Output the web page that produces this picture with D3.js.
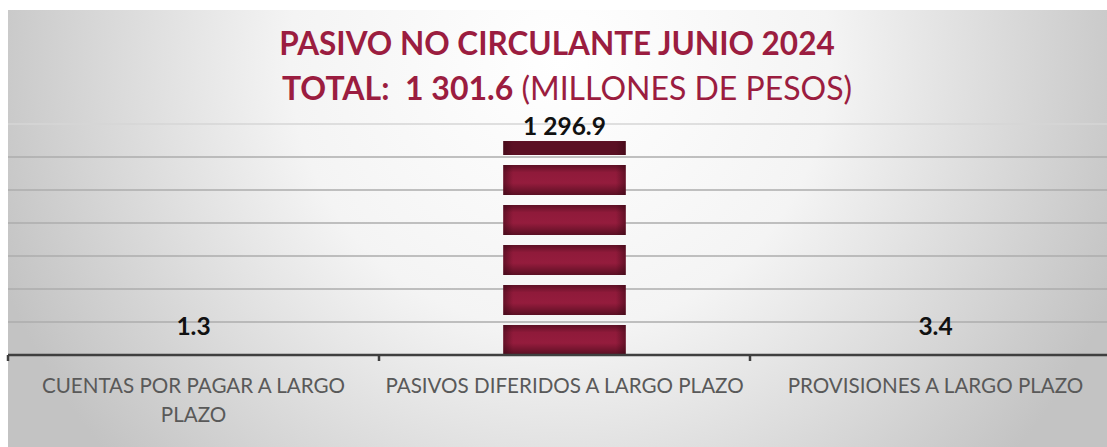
<!DOCTYPE html>
<html>
<head>
<meta charset="utf-8">
<script src="https://cdn.jsdelivr.net/npm/d3@7"></script>
<style>
  body { margin: 0; background: #ffffff; }
  svg { display: block; }
</style>
</head>
<body>
<div id="chart"></div>
<script>
// data
const categories = ["CUENTAS POR PAGAR A LARGO PLAZO", "PASIVOS DIFERIDOS A LARGO PLAZO", "PROVISIONES A LARGO PLAZO"];
const values = [1.3, 1296.9, 3.4];
const valueLabels = ["1.3", "1 296.9", "3.4"];
const gridTicks = [0, 200, 400, 600, 800, 1000, 1200, 1400];
const titleLine1 = "PASIVO NO CIRCULANTE JUNIO 2024";
const titleTotalBold = "TOTAL:  1 301.6";
const titleTotalRest = " (MILLONES DE PESOS)";

const W = 1107, H = 447;
const margin = { top: 124, right: -14, bottom: 92, left: 8 };
const width = W - margin.left - margin.right,
    height = H - margin.top - margin.bottom;

const svg = d3.select("#chart")
    .append("svg")
    .attr("width", W)
    .attr("height", H);

const defs = svg.append("defs");

// chart background gradient
const bg = defs.append("radialGradient")
    .attr("id", "bg")
    .attr("gradientUnits", "userSpaceOnUse")
    .attr("cx", 560).attr("cy", 60).attr("r", 600);
bg.append("stop").attr("offset", "0%").attr("stop-color", "#ffffff");
bg.append("stop").attr("offset", "45%").attr("stop-color", "#f4f4f4");
bg.append("stop").attr("offset", "100%").attr("stop-color", "#c3c3c3");

svg.append("rect")
    .attr("x", 8).attr("y", 10)
    .attr("width", W - 8).attr("height", H - 10)
    .attr("fill", "url(#bg)");

// bar segment shading
const seg = defs.append("linearGradient")
    .attr("id", "segV").attr("x1", 0).attr("y1", 0).attr("x2", 0).attr("y2", 1);
seg.append("stop").attr("offset", "0%").attr("stop-color", "#5e1025");
seg.append("stop").attr("offset", "25%").attr("stop-color", "#8f1a3a");
seg.append("stop").attr("offset", "60%").attr("stop-color", "#951c3d");
seg.append("stop").attr("offset", "100%").attr("stop-color", "#5a0f23");
const segH = defs.append("linearGradient")
    .attr("id", "segH").attr("x1", 0).attr("y1", 0).attr("x2", 1).attr("y2", 0);
segH.append("stop").attr("offset", "0%").attr("stop-color", "#3a0815").attr("stop-opacity", 0.55);
segH.append("stop").attr("offset", "8%").attr("stop-color", "#3a0815").attr("stop-opacity", 0);
segH.append("stop").attr("offset", "92%").attr("stop-color", "#3a0815").attr("stop-opacity", 0);
segH.append("stop").attr("offset", "100%").attr("stop-color", "#3a0815").attr("stop-opacity", 0.55);

const g = svg.append("g")
    .attr("transform", `translate(${margin.left},${margin.top})`);

// scales
const x = d3.scaleBand()
    .domain(categories)
    .range([0, width])
    .padding(0);

const y = d3.scaleLinear()
    .domain([0, 1400])
    .range([height, 0]);

// gridlines
g.append("g")
    .selectAll("line")
    .data(gridTicks.slice(1))
    .join("line")
    .attr("x1", 0).attr("x2", width)
    .attr("y1", d => y(d)).attr("y2", d => y(d))
    .attr("stroke", (d, i, n) => i === n.length - 1 ? "#d6d6d6" : "#acacac")
    .attr("stroke-width", 1.5);

// bars, drawn as stacked picture-style segments
const barW = x.bandwidth() * 0.33;
const unit = 40, gap = 10;
categories.forEach((c, i) => {
    const top = y(values[i]);
    const bottom = y(0);
    const bx = x(c) + (x.bandwidth() - barW) / 2;
    const pieces = [];
    for (let b = bottom; b > top + 0.5; b -= unit) {
        const t = Math.max(top, b - (unit - gap));
        if (b - t > 1) pieces.push({ y0: t, y1: b, partial: b - t < unit - gap - 1 });
    }
    const bar = g.append("g");
    bar.selectAll("rect.s")
        .data(pieces)
        .join("rect")
        .attr("class", "s")
        .attr("x", bx).attr("width", barW)
        .attr("y", d => d.y0).attr("height", d => d.y1 - d.y0)
        .attr("fill", d => d.partial ? "#5b1024" : "url(#segV)");
    bar.selectAll("rect.h")
        .data(pieces)
        .join("rect")
        .attr("class", "h")
        .attr("x", bx).attr("width", barW)
        .attr("y", d => d.y0).attr("height", d => d.y1 - d.y0)
        .attr("fill", "url(#segH)");
});

// axis line and ticks at band edges
g.append("line")
    .attr("x1", 0).attr("x2", width)
    .attr("y1", height).attr("y2", height)
    .attr("stroke", "#3f3f3f")
    .attr("stroke-width", 2.5);
g.append("g")
    .selectAll("line")
    .data(categories)
    .join("line")
    .attr("x1", d => x(d)).attr("x2", d => x(d))
    .attr("y1", height).attr("y2", height + 6)
    .attr("stroke", "#3f3f3f")
    .attr("stroke-width", 2.5);

// value labels
g.append("g")
    .selectAll("text")
    .data(categories)
    .join("text")
    .attr("x", d => x(d) + x.bandwidth() / 2)
    .attr("y", (d, i) => Math.min(y(values[i]) - 6, height - 20))
    .attr("text-anchor", "middle")
    .attr("font-family", "Lato, 'Open Sans', sans-serif")
    .attr("font-weight", "bold")
    .attr("font-size", 24.5)
    .attr("fill", "#111111")
    .text((d, i) => valueLabels[i]);

// category labels, wrapped inside band
const catText = g.append("g")
    .selectAll("text")
    .data(categories)
    .join("text")
    .attr("x", d => x(d) + x.bandwidth() / 2)
    .attr("y", height + 38)
    .attr("text-anchor", "middle")
    .attr("font-family", "Lato, 'Open Sans', sans-serif")
    .attr("font-size", 20.6)
    .attr("fill", "#595959");

catText.each(function (d) {
    const t = d3.select(this);
    const words = d.split(" ");
    let line = [];
    let tspan = t.append("tspan").attr("x", t.attr("x")).attr("dy", 0);
    words.forEach(w => {
        line.push(w);
        tspan.text(line.join(" "));
        if (tspan.node().getComputedTextLength() > x.bandwidth() - 6 && line.length > 1) {
            line.pop();
            tspan.text(line.join(" "));
            line = [w];
            tspan = t.append("tspan").attr("x", t.attr("x")).attr("dy", 29).text(w);
        }
    });
});

// title
const title = svg.append("g")
    .attr("font-family", "Lato, 'Open Sans', sans-serif")
    .attr("fill", "#9b1d40");
title.append("text")
    .attr("x", 557).attr("y", 55)
    .attr("text-anchor", "middle")
    .attr("font-weight", "bold")
    .attr("font-size", 31.5)
    .text(titleLine1);
const t2 = title.append("text")
    .attr("x", 567).attr("y", 100)
    .attr("text-anchor", "middle")
    .attr("font-size", 32)
    .style("white-space", "pre");
t2.append("tspan").attr("font-weight", "bold").text(titleTotalBold);
t2.append("tspan").attr("font-weight", "normal").text(titleTotalRest);
</script>
</body>
</html>
